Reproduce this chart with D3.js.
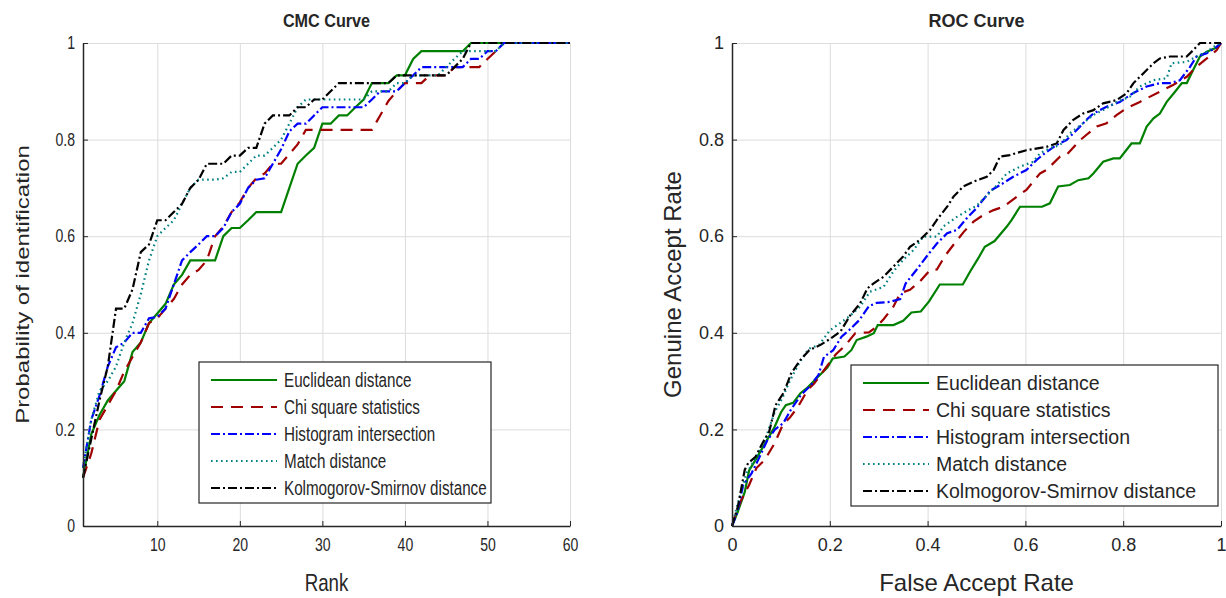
<!DOCTYPE html>
<html>
<head>
<meta charset="utf-8">
<script src="https://cdn.jsdelivr.net/npm/d3@7"></script>
<style>
    body { margin: 0; background: #fff; }
    text { font-family: "Liberation Sans", Arial, sans-serif; fill: #262626; }
</style>
</head>
<body>
<script>
// ---- CMC data (rank 1..60) ----
var ranks = d3.range(1, 61);
var cmcEuclid = [0.10,0.19,0.23,0.26,0.28,0.30,0.36,0.38,0.42,0.44,
    0.46,0.50,0.52,0.55,0.55,0.55,0.55,0.60,0.617,0.617,
    0.633,0.65,0.65,0.65,0.65,0.70,0.75,0.767,0.783,0.833,
    0.833,0.85,0.85,0.867,0.883,0.917,0.917,0.917,0.933,0.933,
    0.967,0.983,0.983,0.983,0.983,0.983,0.983,1,1,1,
    1,1,1,1,1,1,1,1,1,1];
var cmcChi = [0.10,0.15,0.22,0.25,0.28,0.32,0.35,0.38,0.42,0.43,
    0.45,0.47,0.50,0.52,0.53,0.55,0.60,0.62,0.65,0.67,
    0.70,0.72,0.73,0.75,0.75,0.77,0.79,0.82,0.82,0.82,
    0.82,0.82,0.82,0.82,0.82,0.82,0.85,0.88,0.90,0.917,
    0.917,0.917,0.933,0.933,0.933,0.95,0.95,0.95,0.95,0.967,
    0.983,1,1,1,1,1,1,1,1,1];
var cmcHist = [0.12,0.22,0.27,0.33,0.37,0.38,0.40,0.40,0.43,0.433,
    0.45,0.50,0.55,0.567,0.583,0.60,0.60,0.617,0.65,0.667,
    0.70,0.717,0.72,0.75,0.78,0.817,0.833,0.833,0.85,0.867,
    0.867,0.867,0.867,0.867,0.867,0.883,0.90,0.90,0.90,0.917,
    0.933,0.95,0.95,0.95,0.95,0.95,0.95,0.967,0.967,0.983,
    0.983,1,1,1,1,1,1,1,1,1];
var cmcMatch = [0.12,0.22,0.28,0.30,0.33,0.38,0.42,0.48,0.55,0.60,
    0.617,0.633,0.667,0.70,0.717,0.717,0.717,0.72,0.733,0.733,
    0.75,0.767,0.767,0.783,0.80,0.833,0.867,0.883,0.883,0.883,
    0.883,0.883,0.883,0.883,0.883,0.90,0.90,0.90,0.917,0.917,
    0.933,0.933,0.933,0.933,0.95,0.967,0.983,0.983,0.983,0.983,
    0.983,1,1,1,1,1,1,1,1,1];
var cmcKS = [0.10,0.18,0.26,0.33,0.45,0.45,0.49,0.567,0.583,0.633,
    0.633,0.65,0.667,0.70,0.717,0.75,0.75,0.75,0.767,0.767,
    0.783,0.783,0.833,0.85,0.85,0.85,0.867,0.867,0.883,0.883,
    0.90,0.917,0.917,0.917,0.917,0.917,0.917,0.917,0.933,0.933,
    0.933,0.933,0.933,0.933,0.933,0.95,0.967,1,1,1,
    1,1,1,1,1,1,1,1,1,1];

// ---- ROC data (false accept rate, genuine accept rate) ----
var rocEuclidFar = [0,0.012,0.026,0.035,0.05,0.067,0.087,0.1,0.11,0.125,0.14,0.155,0.175,0.195,0.206,0.23,0.244,0.255,0.275,0.29,0.298,0.33,0.35,0.367,0.386,0.403,0.425,0.472,0.487,0.504,0.517,0.537,0.562,0.572,0.589,0.634,0.65,0.667,0.691,0.708,0.729,0.739,0.759,0.78,0.793,0.817,0.834,0.848,0.862,0.875,0.889,0.906,0.92,0.93,0.943,0.957,0.971,0.99,1];
var rocEuclidGar = [0,0.03,0.07,0.115,0.14,0.17,0.205,0.235,0.25,0.255,0.275,0.287,0.308,0.328,0.347,0.351,0.364,0.385,0.392,0.399,0.416,0.416,0.425,0.442,0.444,0.465,0.5,0.5,0.527,0.555,0.578,0.59,0.62,0.634,0.661,0.661,0.668,0.703,0.706,0.716,0.72,0.73,0.754,0.761,0.761,0.792,0.792,0.827,0.844,0.854,0.878,0.899,0.917,0.917,0.944,0.972,0.982,0.99,1];
var rocChiFar = [0,0.006,0.019,0.035,0.05,0.067,0.087,0.105,0.118,0.135,0.155,0.168,0.19,0.212,0.231,0.252,0.28,0.296,0.31,0.33,0.344,0.364,0.384,0.405,0.419,0.436,0.455,0.474,0.494,0.514,0.535,0.555,0.58,0.602,0.63,0.643,0.671,0.684,0.712,0.725,0.746,0.766,0.787,0.807,0.834,0.855,0.882,0.902,0.93,0.95,0.971,0.991,1];
var rocChiGar = [0,0.02,0.054,0.085,0.12,0.137,0.171,0.212,0.224,0.247,0.282,0.295,0.325,0.355,0.373,0.399,0.401,0.413,0.428,0.454,0.482,0.489,0.506,0.53,0.531,0.56,0.585,0.609,0.63,0.644,0.654,0.661,0.68,0.696,0.73,0.737,0.765,0.768,0.799,0.81,0.827,0.834,0.851,0.865,0.878,0.889,0.903,0.913,0.93,0.951,0.968,0.985,1];
var rocHistFar = [0,0.01,0.023,0.04,0.055,0.072,0.088,0.105,0.12,0.14,0.16,0.177,0.188,0.207,0.224,0.24,0.26,0.28,0.296,0.323,0.344,0.355,0.377,0.398,0.419,0.44,0.46,0.48,0.5,0.514,0.528,0.555,0.575,0.602,0.623,0.64,0.664,0.684,0.705,0.725,0.739,0.766,0.793,0.82,0.848,0.875,0.896,0.916,0.937,0.95,0.971,0.991,1];
var rocHistGar = [0,0.026,0.085,0.109,0.14,0.177,0.2,0.213,0.24,0.27,0.29,0.313,0.35,0.364,0.392,0.406,0.426,0.455,0.462,0.464,0.47,0.502,0.53,0.558,0.585,0.606,0.613,0.637,0.658,0.676,0.694,0.71,0.723,0.737,0.758,0.772,0.789,0.799,0.82,0.841,0.854,0.868,0.878,0.896,0.91,0.917,0.917,0.923,0.951,0.972,0.979,0.992,1];
var rocMatchFar = [0,0.01,0.03,0.05,0.07,0.087,0.103,0.118,0.137,0.157,0.178,0.2,0.221,0.241,0.262,0.282,0.31,0.33,0.35,0.371,0.391,0.419,0.432,0.46,0.48,0.5,0.521,0.541,0.562,0.589,0.616,0.63,0.65,0.671,0.691,0.718,0.739,0.759,0.787,0.814,0.834,0.862,0.889,0.899,0.93,0.95,0.971,0.991,1];
var rocMatchGar = [0,0.04,0.11,0.143,0.185,0.235,0.265,0.3,0.337,0.367,0.375,0.405,0.42,0.435,0.454,0.485,0.495,0.527,0.551,0.571,0.599,0.599,0.62,0.64,0.652,0.663,0.684,0.705,0.73,0.744,0.754,0.772,0.782,0.789,0.813,0.834,0.851,0.861,0.878,0.889,0.91,0.923,0.927,0.958,0.961,0.972,0.982,0.996,1];
var rocKSFar = [0,0.012,0.026,0.033,0.048,0.062,0.076,0.089,0.105,0.115,0.121,0.14,0.158,0.181,0.2,0.222,0.241,0.262,0.277,0.289,0.31,0.33,0.35,0.364,0.384,0.405,0.419,0.44,0.453,0.473,0.494,0.521,0.535,0.548,0.568,0.602,0.643,0.664,0.678,0.698,0.718,0.739,0.759,0.787,0.807,0.821,0.841,0.862,0.875,0.896,0.93,0.943,0.957,1];
var rocKSGar = [0,0.04,0.116,0.13,0.143,0.171,0.195,0.25,0.275,0.3,0.316,0.344,0.364,0.375,0.387,0.403,0.435,0.461,0.492,0.502,0.516,0.537,0.558,0.578,0.592,0.613,0.634,0.661,0.682,0.703,0.713,0.723,0.737,0.765,0.768,0.778,0.785,0.792,0.82,0.841,0.854,0.861,0.875,0.882,0.896,0.917,0.937,0.958,0.968,0.972,0.972,0.985,1,1];

var seriesNames = ["Euclidean distance", "Chi square statistics", "Histogram intersection",
    "Match distance", "Kolmogorov-Smirnov distance"];
var seriesColors = ["#008000", "#a00000", "#0000ff", "#008080", "#000000"];
var seriesDash = [null, "12,8", "9,3,2,3", "1.6,3.4", "9,3,2,3"];

var yTicks = [0, 0.2, 0.4, 0.6, 0.8, 1];
var cmcTicks = [10, 20, 30, 40, 50, 60];
var rocTicks = [0, 0.2, 0.4, 0.6, 0.8, 1];

var svg = d3.select("body").append("svg")
    .attr("width", 1226)
    .attr("height", 598);

// text squeezed horizontally by sx (the left figure is narrower than the right one)
function addText(g, x, y, size, sx, rot, str) {
    return g.append("text")
        .attr("transform", "translate(" + x + "," + y + ") scale(" + sx + ",1)" + (rot ? " rotate(" + rot + ")" : ""))
        .attr("text-anchor", "middle")
        .attr("font-size", size)
        .text(str);
}

function drawPanel(p) {
    var x = d3.scaleLinear().domain(p.xDomain).range([p.left, p.right]);
    var y = d3.scaleLinear().domain([0, 1]).range([p.bottom, p.top]);
    var g = svg.append("g");
    var sx = p.sx;

    // grid
    g.append("g")
        .attr("transform", "translate(0," + p.bottom + ")")
        .call(d3.axisBottom(x).tickValues(p.xTicks).tickSize(-(p.bottom - p.top)).tickFormat(""))
        .call(s => s.select(".domain").remove())
        .selectAll("line").attr("stroke", "#dcdcdc");
    g.append("g")
        .attr("transform", "translate(" + p.left + ",0)")
        .call(d3.axisLeft(y).tickValues(yTicks).tickSize(-(p.right - p.left)).tickFormat(""))
        .call(s => s.select(".domain").remove())
        .selectAll("line").attr("stroke", "#dcdcdc");

    // curves
    var line = d3.line().x(d => x(d[0])).y(d => y(d[1]));
    p.series.forEach(function (s, i) {
        g.append("path")
            .datum(d3.zip(s.x, s.y))
            .attr("fill", "none")
            .attr("stroke", seriesColors[i])
            .attr("stroke-width", 2.2)
            .attr("stroke-dasharray", seriesDash[i])
            .attr("d", line);
    });

    // axes, ticks pointing inward
    var xAxis = g.append("g")
        .attr("transform", "translate(0," + p.bottom + ")")
        .call(d3.axisBottom(x).tickValues(p.xTicks).tickSizeInner(-5).tickSizeOuter(0).tickPadding(12)
            .tickFormat(d3.format("~g")));
    var yAxis = g.append("g")
        .attr("transform", "translate(" + p.left + ",0)")
        .call(d3.axisLeft(y).tickValues(yTicks).tickSizeInner(-5).tickSizeOuter(0).tickPadding(8)
            .tickFormat(d3.format("~g")));
    [xAxis, yAxis].forEach(function (a) {
        a.select(".domain").attr("stroke", "#262626").attr("stroke-width", 1.5);
        a.selectAll(".tick line").attr("stroke", "#262626");
        a.selectAll("text").attr("font-size", 18).attr("fill", "#262626")
            .style("font-family", "'Liberation Sans', Arial, sans-serif")
            .attr("transform", "scale(" + sx + ",1)");
    });
    yAxis.selectAll("text").attr("x", -8 / sx);

    var cx = (p.left + p.right) / 2;
    addText(g, cx, 27, 18, p.titleSx, 0, p.title).attr("font-weight", "bold").attr("fill", "#000");
    addText(g, cx, 591, 24, sx, 0, p.xLabel);
    addText(g, p.yLabelX, (p.top + p.bottom) / 2, 24, sx, -90, p.yLabel);

    // legend
    var lg = g.append("g").attr("transform", "translate(" + p.legendX + "," + p.legendY + ")");
    lg.append("rect")
        .attr("width", p.legendW).attr("height", 141)
        .attr("fill", "#fff").attr("stroke", "#262626").attr("stroke-width", 1.2);
    var rowH = 27;
    seriesNames.forEach(function (name, i) {
        var ly = 18 + i * rowH;
        lg.append("line")
            .attr("x1", 12).attr("x2", 78).attr("y1", ly).attr("y2", ly)
            .attr("stroke", seriesColors[i]).attr("stroke-width", 2.2)
            .attr("stroke-dasharray", seriesDash[i]);
        addText(lg, 85, ly, 19.5, sx, 0, name)
            .attr("text-anchor", "start").attr("dy", "0.35em").attr("fill", "#000");
    });
}

drawPanel({
    left: 83, right: 570, top: 43, bottom: 526, sx: 0.78, titleSx: 0.9,
    xDomain: [1, 60], xTicks: cmcTicks,
    title: "CMC Curve", xLabel: "Rank", yLabel: "Probability of identification", yLabelX: 29,
    legendX: 199, legendY: 362, legendW: 292,
    series: [
        { x: ranks, y: cmcEuclid }, { x: ranks, y: cmcChi }, { x: ranks, y: cmcHist },
        { x: ranks, y: cmcMatch }, { x: ranks, y: cmcKS }
    ]
});

drawPanel({
    left: 732, right: 1221, top: 43, bottom: 526, sx: 1, titleSx: 1,
    xDomain: [0, 1], xTicks: rocTicks,
    title: "ROC Curve", xLabel: "False Accept Rate", yLabel: "Genuine Accept Rate", yLabelX: 681,
    legendX: 851, legendY: 365, legendW: 367,
    series: [
        { x: rocEuclidFar, y: rocEuclidGar }, { x: rocChiFar, y: rocChiGar }, { x: rocHistFar, y: rocHistGar },
        { x: rocMatchFar, y: rocMatchGar }, { x: rocKSFar, y: rocKSGar }
    ]
});
</script>
</body>
</html>
